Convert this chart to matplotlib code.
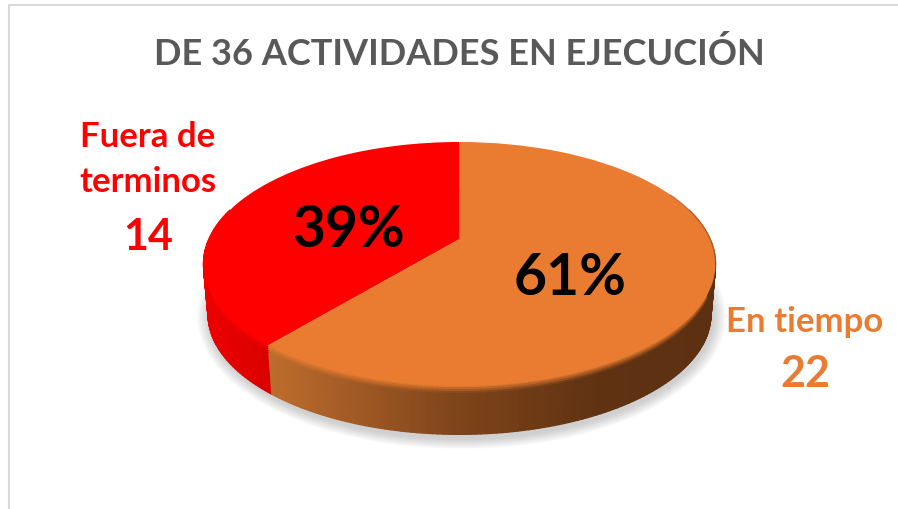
import numpy as np
import matplotlib
matplotlib.use("Agg")
import matplotlib.pyplot as plt
from matplotlib.collections import PolyCollection
from matplotlib.colors import LinearSegmentedColormap, to_rgb
from matplotlib.patches import Ellipse
from matplotlib.transforms import Transform

# data
title = "DE 36 ACTIVIDADES EN EJECUCIÓN"
slice_names = ["Fuera de\nterminos", "En tiempo"]
slice_values = [14, 22]
slice_pcts = ["39%", "61%"]

RED = "#FF0000"
ORANGE = "#E97C31"
FONT = "Lato"

# pie geometry in pixels (from the reference)
APEX_X, APEX_Y = 459.5, 240
FAR, NEAR = 97, 147       # apex to far / near rim
HALF_W = 256
DEPTH = 48.5
BOTTOM_SCALE = 0.982

c = (NEAR - FAR) / (NEAR + FAR)
a = FAR * (1 + c)
k = HALF_W * np.sqrt(1 - c ** 2)
RIM_CY = APEX_Y + (NEAR - FAR) / 2


def project(xy):
    xy = np.asarray(xy, dtype=float)
    w = 1 + c * xy[..., 1]
    return np.stack([APEX_X + k * xy[..., 0] / w, APEX_Y - a * xy[..., 1] / w], axis=-1)


class Perspective(Transform):
    # tilts the flat pie so that the apex sits above the centre of the ellipse
    input_dims = 2
    output_dims = 2
    is_affine = False

    def transform_non_affine(self, values):
        return project(values)


fig = plt.figure(figsize=(8.98, 5.10), dpi=100)
ax = fig.add_axes([0, 0, 1, 1])

# ----------------------------
# pie top
# ----------------------------
wedges, _ = ax.pie(slice_values, colors=[RED, ORANGE], startangle=90)
persp = Perspective() + ax.transData
for w in wedges:
    w.set_transform(persp)
    w.set_zorder(5)

ax.set_aspect("auto")
ax.set_xlim(0, 898)
ax.set_ylim(510, 0)
ax.axis("off")

# ----------------------------
# soft shadow under the pie
# ----------------------------
for grow in np.linspace(16, 1, 12):
    ax.add_patch(Ellipse((APEX_X + 2, RIM_CY + DEPTH + 4), 2 * (HALF_W * BOTTOM_SCALE + grow * 0.8),
                         2 * (NEAR / 2 + FAR / 2 + grow * 0.65), fc="#7a7a7a", ec="none", alpha=0.03, zorder=1))

# ----------------------------
# pie side
# ----------------------------
split = 90 + 360 * slice_values[0] / sum(slice_values)
angles = np.radians(np.linspace(165, 375, 211))
rim = project(np.column_stack([np.cos(angles), np.sin(angles)]))
rim_low = rim.copy()
rim_low[:, 0] = APEX_X + (rim[:, 0] - APEX_X) * BOTTOM_SCALE
rim_low[:, 1] = RIM_CY + (rim[:, 1] - RIM_CY) * BOTTOM_SCALE + DEPTH + 2

orange_side = LinearSegmentedColormap.from_list("orange_side", [(0, "#BC6C2D"), (0.42, "#7E441A"), (0.75, "#5F3212"), (1, "#5C3011")])
red_side = LinearSegmentedColormap.from_list("red_side", [(0, "#EE0000"), (1, "#D80000")])


def side_colour(deg, x):
    if deg < split:
        return np.array(red_side((x - 203) / 70))[:3], np.array(to_rgb(RED))
    return np.array(orange_side((x - 272) / 443))[:3], np.array(to_rgb(ORANGE))


bands = [0, 0.04, 0.08, 0.12, 0.16, 1]
polys, cols = [], []
for b0, b1 in zip(bands[:-1], bands[1:]):
    for i in range(len(angles) - 1):
        deg = np.degrees((angles[i] + angles[i + 1]) / 2)
        xm = (rim[i, 0] + rim[i + 1, 0]) / 2
        col, top_col = side_colour(deg, xm)
        p0 = rim[i] + (rim_low[i] - rim[i]) * b0
        p1 = rim[i + 1] + (rim_low[i + 1] - rim[i + 1]) * b0
        p2 = rim[i + 1] + (rim_low[i + 1] - rim[i + 1]) * b1
        p3 = rim[i] + (rim_low[i] - rim[i]) * b1
        mix = min(1.0, (b0 + 0.02) / 0.16)
        polys.append([p0, p1, p2, p3])
        cols.append(top_col * (1 - mix) + col * mix)
ax.add_collection(PolyCollection(polys, facecolors=cols, edgecolors=cols, linewidths=1.0, zorder=3))

# dark line where the rim turns away on the right
edge_t = np.radians(np.linspace(-12, 24, 60))
edge = project(np.column_stack([np.cos(edge_t), np.sin(edge_t)]))
ax.plot(edge[:, 0], edge[:, 1], color="#6B3A16", lw=1.0, alpha=0.4, zorder=6)

# ----------------------------
# frame and text
# ----------------------------
ax.plot([8.5, 8.5, 898], [510, 5.5, 5.5], color="#D9D9D9", lw=1.5, zorder=2)

ax.text(459, 54, title, ha="center", va="center", fontsize=26, fontweight="bold", color="#595959", family=FONT)

pct_pos = [(349, 231), (570, 279)]
for txt, (x, y) in zip(slice_pcts, pct_pos):
    ax.text(x, y, txt, ha="center", va="center", fontsize=41, fontweight="bold", color="black", family=FONT, zorder=7)

ax.text(148, 160, slice_names[0], ha="center", va="center", fontsize=25, fontweight="bold", color=RED,
        family=FONT, linespacing=1.5)
ax.text(148, 237, str(slice_values[0]), ha="center", va="center", fontsize=31, fontweight="bold", color=RED, family=FONT)
ax.text(805, 322, slice_names[1], ha="center", va="center", fontsize=25, fontweight="bold", color=ORANGE, family=FONT)
ax.text(805, 374, str(slice_values[1]), ha="center", va="center", fontsize=31, fontweight="bold", color=ORANGE, family=FONT)

fig.savefig("out.png", dpi=100, facecolor="white")
